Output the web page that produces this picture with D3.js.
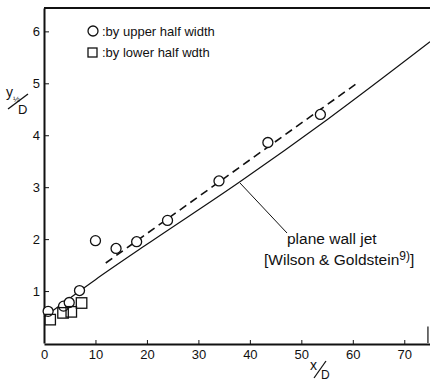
<!DOCTYPE html>
<html>
<head>
<meta charset="utf-8">
<script src="https://cdn.jsdelivr.net/npm/d3@7/dist/d3.min.js"></script>
<style>
  html, body { margin: 0; padding: 0; background: #fff; }
  svg { display: block; }
  text { font-family: "Liberation Sans", "DejaVu Sans", sans-serif; fill: #111; }
</style>
</head>
<body>
<svg id="chart" width="430" height="383"></svg>
<script>
// Half-width growth data: x/D against y½/D
const upperX = [0.8, 3.8, 4.9, 6.9, 10, 14, 18, 24, 34, 43.5, 53.7];
const upperY = [0.61, 0.71, 0.78, 1.01, 1.97, 1.82, 1.95, 2.36, 3.12, 3.86, 4.4];
const lowerX = [1.2, 3.7, 5.3, 7.3];
const lowerY = [0.45, 0.58, 0.6, 0.77];

// Fitted trend through the upper half-width points (dashed)
const fitX = [12, 60.8];
const fitY = [1.54, 5.0];

// Plane wall jet reference curve (solid)
const wallJetX = [0, 10, 20, 38, 55, 75];
const wallJetY = [0.5, 1.22, 1.9, 3.1, 4.3, 5.8];

const xTicks = [0, 10, 20, 30, 40, 50, 60, 70];
const yTicks = [1, 2, 3, 4, 5, 6];

const legendLabels = [":by upper half width", ":by lower half wdth"];

const svg = d3.select("#chart");
const x = d3.scaleLinear().domain([0, 75]).range([44, 430]);
const y = d3.scaleLinear().domain([0, 6.45]).range([343, 8]);

const ink = "#111";

// Axes with inward ticks
const xAxis = d3.axisBottom(x).tickValues(xTicks).tickSize(-4).tickSizeOuter(0).tickPadding(6).tickFormat(d3.format("d"));
const yAxis = d3.axisLeft(y).tickValues(yTicks).tickSize(-5).tickSizeOuter(0).tickPadding(4).tickFormat(d3.format("d"));

const gx = svg.append("g").attr("transform", "translate(0,344)").call(xAxis);
gx.select(".domain").attr("stroke", ink).attr("stroke-width", 2);
gx.selectAll(".tick line").attr("stroke", ink).attr("stroke-width", 1);
gx.selectAll(".tick text").attr("font-size", 13).attr("fill", ink)
  .style("font-family", "'Liberation Sans', sans-serif");
gx.selectAll(".tick").filter(d => d === 0).select("line").remove();

const gy = svg.append("g").attr("transform", "translate(44,0)").call(yAxis);
gy.select(".domain").attr("stroke", ink).attr("stroke-width", 2);
gy.selectAll(".tick line").attr("stroke", ink).attr("stroke-width", 1);
gy.selectAll(".tick text").attr("font-size", 13).attr("fill", ink)
  .style("font-family", "'Liberation Sans', sans-serif");

// Top frame edge
svg.append("line")
  .attr("x1", x(0)).attr("x2", x(75)).attr("y1", y(6.45)).attr("y2", y(6.45))
  .attr("stroke", ink).attr("stroke-width", 2);

// Right frame stub near the bottom
svg.append("line")
  .attr("x1", x(74.6)).attr("x2", x(74.6)).attr("y1", y(0)).attr("y2", y(0.32))
  .attr("stroke", ink).attr("stroke-width", 1.2);

const line = d3.line().x(d => x(d[0])).y(d => y(d[1])).curve(d3.curveMonotoneX);

// Plane wall jet curve
svg.append("path")
  .datum(wallJetX.map((v, i) => [v, wallJetY[i]]))
  .attr("d", line)
  .attr("fill", "none").attr("stroke", ink).attr("stroke-width", 1.2);

// Dashed trend line
svg.append("path")
  .datum(fitX.map((v, i) => [v, fitY[i]]))
  .attr("d", line)
  .attr("fill", "none").attr("stroke", ink).attr("stroke-width", 1.6)
  .attr("stroke-dasharray", "8,5");

// Upper half-width markers
svg.append("g").selectAll("circle")
  .data(upperX.map((v, i) => [v, upperY[i]]))
  .join("circle")
  .attr("cx", d => x(d[0])).attr("cy", d => y(d[1])).attr("r", 5)
  .attr("fill", "#fff").attr("stroke", ink).attr("stroke-width", 1.3);

// Lower half-width markers
const sq = 10.5;
svg.append("g").selectAll("rect")
  .data(lowerX.map((v, i) => [v, lowerY[i]]))
  .join("rect")
  .attr("x", d => x(d[0]) - sq / 2).attr("y", d => y(d[1]) - sq / 2)
  .attr("width", sq).attr("height", sq)
  .attr("fill", "none").attr("stroke", ink).attr("stroke-width", 1.3);

// Legend
const lg = svg.append("g");
lg.append("circle").attr("cx", 93).attr("cy", 31).attr("r", 5)
  .attr("fill", "#fff").attr("stroke", ink).attr("stroke-width", 1.3);
lg.append("rect").attr("x", 88).attr("y", 48).attr("width", 9).attr("height", 9)
  .attr("fill", "none").attr("stroke", ink).attr("stroke-width", 1.3);
lg.selectAll("text.leg").data(legendLabels).join("text")
  .attr("class", "leg")
  .attr("x", 102).attr("y", (d, i) => 36 + i * 21)
  .attr("font-size", 13).text(d => d);

// Annotation for the wall jet curve
svg.append("line")
  .attr("x1", 240).attr("y1", 183).attr("x2", 287).attr("y2", 233)
  .attr("stroke", ink).attr("stroke-width", 1);
svg.append("text").attr("x", 287).attr("y", 244).attr("font-size", 15.5).text("plane wall jet");
const ref = svg.append("text").attr("x", 264).attr("y", 265).attr("font-size", 15.5);
ref.append("tspan").text("[Wilson & Goldstein");
ref.append("tspan").attr("dy", -5).attr("font-size", 12).text("9)");
ref.append("tspan").attr("dy", 5).text("]");

// Y axis title: y½ / D
const yt = svg.append("g");
yt.append("text").attr("x", 6).attr("y", 97).attr("font-size", 14).text("y");
yt.append("text").attr("x", 13).attr("y", 102).attr("font-size", 8).text("½");
yt.append("line").attr("x1", 8).attr("y1", 109).attr("x2", 28).attr("y2", 94)
  .attr("stroke", ink).attr("stroke-width", 1.3);
yt.append("text").attr("x", 18).attr("y", 114).attr("font-size", 13).text("D");

// X axis title: x / D
const xt = svg.append("g");
xt.append("text").attr("x", 310).attr("y", 370).attr("font-size", 14).text("x");
xt.append("line").attr("x1", 314).attr("y1", 378).attr("x2", 326).attr("y2", 361)
  .attr("stroke", ink).attr("stroke-width", 1.3);
xt.append("text").attr("x", 321).attr("y", 379).attr("font-size", 12).text("D");
</script>
</body>
</html>
